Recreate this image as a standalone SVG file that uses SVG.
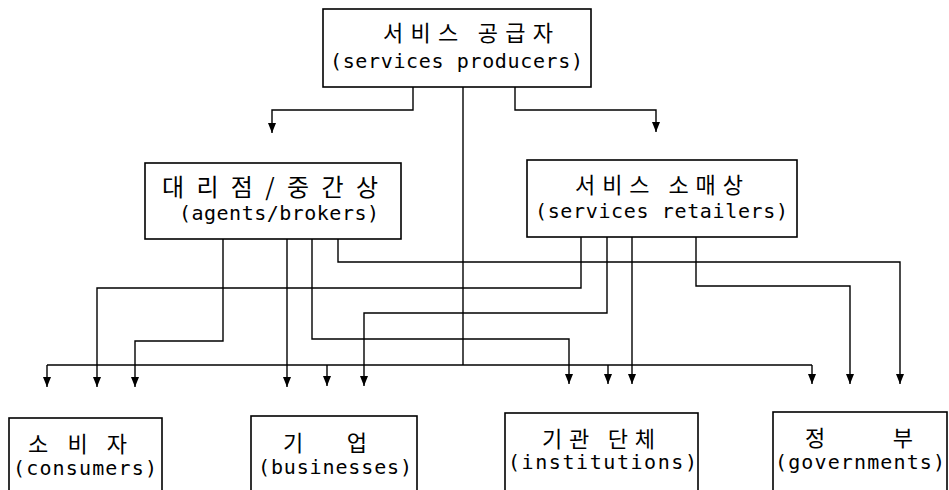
<svg xmlns="http://www.w3.org/2000/svg" width="949" height="490" viewBox="0 0 949 490">
<style>
.box{fill:#fff;stroke:#000;stroke-width:1.6}
.ko{font-family:"Noto Sans CJK KR","Noto Sans",sans-serif;font-size:22px;fill:#000}
.en{font-family:"DejaVu Sans Mono","Liberation Mono",monospace;font-size:20px;fill:#000}
.cn path{fill:none;stroke:#000;stroke-width:1.4;marker-end:url(#ah)}
.cn path.nm{marker-end:none}
</style>
<defs>
<marker id="ah" viewBox="0 0 10 8" refX="10" refY="4" markerWidth="10" markerHeight="8" markerUnits="userSpaceOnUse" orient="auto">
<path d="M0,0 L10,4 L0,8 z" fill="#000"/>
</marker>
</defs>
<rect width="949" height="490" fill="#fff"/>
<g id="connectors" class="cn">
<path d="M413,87 V110 H272 V133"/>
<path d="M515,87 V110 H656 V132"/>
<path class="nm" d="M463,87 V365"/>
<path class="nm" d="M47,365 H812"/>
<path d="M47,365 V387"/>
<path d="M327,365 V386"/>
<path d="M608,365 V384"/>
<path d="M812,365 V384"/>
<path d="M223,239 V341 H135 V387"/>
<path d="M287,239 V387"/>
<path d="M312,239 V339 H569 V384"/>
<path d="M338,239 V262 H900 V384"/>
<path d="M581,237 V288 H97 V387"/>
<path d="M607,237 V313 H364 V386"/>
<path d="M632,237 V384"/>
<path d="M696,237 V286 H850 V384"/>
</g>
<g id="producers">
<rect class="box" x="323" y="9" width="268" height="78"/>
<text class="ko" x="383" y="41" textLength="170" lengthAdjust="spacing">서비스 공급자</text>
<text class="en" x="330" y="68" textLength="253" lengthAdjust="spacing">(services producers)</text>
</g>
<g id="agents">
<rect class="box" x="145" y="163" width="256" height="76"/>
<text class="ko" x="162" y="196" textLength="216" lengthAdjust="spacing" style="font-size:24px">대리점/중간상</text>
<text class="en" x="179" y="220" textLength="200" lengthAdjust="spacing">(agents/brokers)</text>
</g>
<g id="retailers">
<rect class="box" x="527" y="160" width="270" height="77"/>
<text class="ko" x="575" y="193" textLength="168" lengthAdjust="spacing">서비스 소매상</text>
<text class="en" x="535" y="218" textLength="253" lengthAdjust="spacing">(services retailers)</text>
</g>
<g id="consumers">
<rect class="box" x="9" y="418" width="153" height="90"/>
<text class="ko" x="28" y="452" textLength="99" lengthAdjust="spacing">소 비 자</text>
<text class="en" x="13" y="475" textLength="144" lengthAdjust="spacing">(consumers)</text>
</g>
<g id="businesses">
<rect class="box" x="251" y="416" width="166" height="90"/>
<text class="ko" x="283" y="451" textLength="84" lengthAdjust="spacing">기 업</text>
<text class="en" x="258" y="474" textLength="154" lengthAdjust="spacing">(businesses)</text>
</g>
<g id="institutions">
<rect class="box" x="505" y="413" width="193" height="90"/>
<text class="ko" x="542" y="447" textLength="113" lengthAdjust="spacing">기관 단체</text>
<text class="en" x="508" y="469" textLength="189" lengthAdjust="spacing">(institutions)</text>
</g>
<g id="governments">
<rect class="box" x="773" y="412" width="174" height="90"/>
<text class="ko" x="805" y="446" textLength="108" lengthAdjust="spacing">정 부</text>
<text class="en" x="775" y="469" textLength="170" lengthAdjust="spacing">(governments)</text>
</g>
</svg>
